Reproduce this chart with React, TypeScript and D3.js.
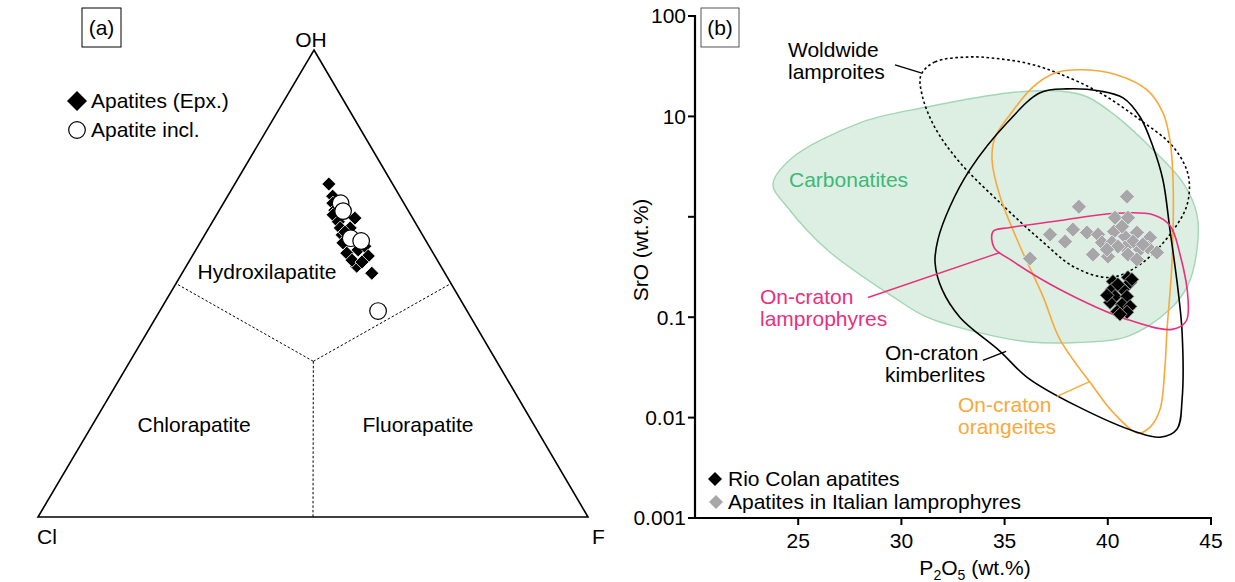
import React from 'react';
import * as d3 from 'd3';

const W = 1235;
const H = 582;
const FONT = '"Liberation Sans", Arial, Helvetica, sans-serif';
const FS = 21;

// ---------- Panel (a): OH – Cl – F ternary (mol %) ----------
type Tern = [number, number, number]; // [OH, Cl, F]

const apatitesEpx: Tern[] = [
  [71.3, 11.6, 17.1], [68.7, 12.2, 19.1], [67.2, 12.9, 19.9], [65.7, 13.3, 21.0],
  [64.7, 14.1, 21.2], [63.2, 13.9, 22.9], [61.9, 14.2, 23.9], [60.4, 14.6, 25.0],
  [58.7, 15.3, 26.0], [64.0, 10.5, 25.5], [61.9, 12.4, 25.7], [56.5, 15.7, 27.8],
  [57.2, 13.3, 29.5], [58.0, 11.7, 30.3], [55.9, 12.1, 32.0], [53.7, 15.3, 31.0],
  [52.2, 13.3, 34.5], [55.0, 15.5, 29.5], [54.6, 13.9, 31.5], [61.0, 13.8, 25.2],
];

const apatiteIncl: Tern[] = [
  [67.2, 11.5, 21.3], [65.5, 11.9, 22.6], [59.7, 13.4, 26.9], [59.1, 11.8, 29.1],
  [44.1, 16.2, 39.7],
];

// field boundaries: centroid to edge midpoints
const fieldBoundaries: [Tern, Tern][] = [
  [[33.33, 33.33, 33.33], [50, 50, 0]],
  [[33.33, 33.33, 33.33], [50, 0, 50]],
  [[33.33, 33.33, 33.33], [0, 50, 50]],
];

const ternaryFields = [
  { name: 'Hydroxilapatite', at: [52.5, 32.2, 15.3] as Tern },
  { name: 'Chlorapatite', at: [19.7, 61.8, 18.5] as Tern },
  { name: 'Fluorapatite', at: [19.7, 21.1, 59.2] as Tern },
];

// ---------- Panel (b): P2O5 vs SrO ----------
type XY = [number, number]; // [P2O5 wt.%, SrO wt.%]

const rioColan: XY[] = [
  [40.25, 0.227], [40.98, 0.249], [41.08, 0.222], [40.2, 0.189], [40.74, 0.189],
  [40.35, 0.161], [40.93, 0.161], [40.11, 0.14], [40.69, 0.134], [41.08, 0.128],
  [40.45, 0.114], [40.93, 0.112], [40.59, 0.107], [41.17, 0.238], [40.49, 0.212],
  [39.96, 0.165],
];

const italianLamprophyres: XY[] = [
  [40.93, 1.59], [38.6, 1.26], [40.35, 0.98], [40.98, 0.98], [37.2, 0.665],
  [38.31, 0.746], [38.99, 0.697], [37.93, 0.566], [39.53, 0.665], [40.3, 0.713],
  [39.72, 0.554], [40.2, 0.554], [40.83, 0.635], [41.41, 0.697], [42.04, 0.621],
  [41.22, 0.566], [40.83, 0.494], [39.28, 0.421], [40.01, 0.402], [40.98, 0.421],
  [41.56, 0.472], [41.95, 0.494], [42.38, 0.441], [41.41, 0.376], [40.49, 0.506],
  [40.69, 0.8], [36.23, 0.384], [39.96, 0.472], [41.7, 0.53],
];

const carbonatites: XY[] = [
  [23.78, 2.09], [24.6, 3.7], [27.99, 8.63], [31.24, 12.4], [35.26, 17.2],
  [37.68, 17.9], [38.99, 15.7], [40.45, 9.9], [42.04, 4.99], [43.64, 2.19],
  [44.32, 1.05], [44.32, 0.47], [43.89, 0.21], [43.01, 0.12], [40.93, 0.064],
  [38.51, 0.056], [36.09, 0.057], [33.66, 0.071], [31.24, 0.1], [29.59, 0.16],
  [26.4, 0.47], [24.46, 1.26],
];

const lamproites: XY[] = [
  [30.95, 25.9], [31.63, 34.9], [33.32, 39.1], [34.78, 37.4], [36.23, 33.3],
  [37.68, 26.5], [39.62, 17.2], [41.56, 9.25], [43.16, 4.99], [43.89, 2.63],
  [43.84, 1.32], [43.01, 0.665], [41.56, 0.335], [40.11, 0.249], [38.41, 0.313],
  [36.72, 0.593], [34.78, 1.38], [32.84, 3.46], [31.63, 7.7], [31.0, 16.4],
];

const kimberlites: XY[] = [
  [31.63, 0.351], [31.97, 0.189], [32.84, 0.0995], [34.78, 0.0457], [36.09, 0.0252],
  [38.51, 0.013], [41.41, 0.00716], [42.53, 0.00638], [43.35, 0.00767], [43.6, 0.0152],
  [43.6, 0.0706], [43.4, 0.189], [43.01, 0.746], [42.67, 2.34], [42.19, 4.99],
  [41.56, 9.91], [40.74, 15.3], [39.62, 17.9], [38.02, 18.8], [36.72, 17.2],
  [35.12, 8.63], [33.32, 2.95], [32.35, 1.26], [31.77, 0.593],
];

const orangeites: XY[] = [
  [38.8, 29.1], [40.45, 25.9], [41.9, 18.4], [42.67, 10.9], [43.01, 5.85],
  [43.16, 2.34], [43.11, 0.351], [42.87, 0.0757], [42.77, 0.0324], [42.53, 0.0121],
  [42.05, 0.00803], [41.46, 0.007], [40.25, 0.0113], [39.28, 0.0205], [37.68, 0.0601],
  [36.86, 0.161], [35.75, 0.506], [34.78, 1.59], [34.39, 3.7], [34.53, 6.12],
  [35.26, 10.4], [36.38, 19.7], [37.44, 27.1],
];

const lamprophyres: XY[] = [
  [34.44, 0.713], [35.26, 0.781], [37.68, 0.917], [40.25, 1.08], [42.19, 1.05],
  [43.01, 0.818], [43.5, 0.421], [43.89, 0.15], [43.79, 0.0908], [43.11, 0.0757],
  [40.93, 0.0951], [37.68, 0.189], [35.26, 0.376], [34.49, 0.494],
];

const xTicks = [25, 30, 35, 40, 45];
const yTicks = [100, 10, 1, 0.1, 0.01, 0.001];
const yTickLabels = ['100', '10', '', '0.1', '0.01', '0.001'];

const GREEN = '#3db877';
const PINK = '#ea2f7c';
const ORANGE = '#f8a93a';
const GRAY = '#a7a7a9';

// field labels with leader lines (leader endpoints in data units)
const fieldLabels = [
  { lines: ['Woldwide', 'lamproites'], color: '#000', x: 788, y: 50, leader: [[29.69, 32.6], [30.95, 27.1]] as XY[] },
  { lines: ['Carbonatites'], color: GREEN, x: 789, y: 180, leader: null },
  { lines: ['On-craton', 'lamprophyres'], color: PINK, x: 760, y: 297, leader: [[28.38, 0.157], [34.78, 0.441]] as XY[] },
  { lines: ['On-craton', 'kimberlites'], color: '#000', x: 885, y: 353, leader: [[33.95, 0.0372], [35.07, 0.0457]] as XY[] },
  { lines: ['On-craton', 'orangeites'], color: ORANGE, x: 958, y: 405, leader: [[37.54, 0.0163], [39.14, 0.023]] as XY[] },
];

function diamond(cx: number, cy: number, r: number) {
  return `M${cx},${cy - r}L${cx + r},${cy}L${cx},${cy + r}L${cx - r},${cy}Z`;
}

export default function App() {
  // ternary projection
  const apex = { x: 314, y: 50 };
  const baseY = 517;
  const left = 38;
  const right = 588;
  const tern = (t: Tern) => {
    const s = t[0] + t[1] + t[2];
    const a = t[0] / s, b = t[1] / s, c = t[2] / s;
    return {
      x: a * apex.x + b * left + c * right,
      y: a * apex.y + (b + c) * baseY,
    };
  };

  // P2O5 - SrO scales
  const x = d3.scaleLinear().domain([20, 45]).range([695, 1211]);
  const y = d3.scaleLog().domain([0.001, 100]).range([518, 16]);
  const closed = d3
    .line<XY>()
    .x((d) => x(d[0]))
    .y((d) => y(d[1]))
    .curve(d3.curveCatmullRomClosed.alpha(0.5));
  const seg = d3.line<XY>().x((d) => x(d[0])).y((d) => y(d[1]));

  const x0 = x.range()[0];
  const yB = y.range()[0];

  return (
    <svg
      width={W}
      height={H}
      viewBox={`0 0 ${W} ${H}`}
      style={{ position: 'absolute', left: 0, top: 0, background: '#fff' }}
      fontFamily={FONT}
      fontSize={FS}
    >
      <rect width={W} height={H} fill="#fff" />

      {/* ---------------- Panel (a) ---------------- */}
      <g>
        <rect x={82} y={8} width={39} height={39} fill="none" stroke="#000" strokeWidth={1} />
        <text x={101.5} y={27.5} dy="0.35em" textAnchor="middle">(a)</text>

        <path
          d={`M${apex.x},${apex.y}L${right},${baseY}L${left},${baseY}Z`}
          fill="none"
          stroke="#000"
          strokeWidth={1.6}
          strokeLinejoin="miter"
        />
        {fieldBoundaries.map(([p, q], i) => {
          const a = tern(p), b = tern(q);
          return (
            <line key={i} x1={a.x} y1={a.y} x2={b.x} y2={b.y} stroke="#000" strokeWidth={1} strokeDasharray="2.5,2" />
          );
        })}
        <text x={311} y={40} dy="0.35em" textAnchor="middle">OH</text>
        <text x={37} y={537} dy="0.35em">Cl</text>
        <text x={592} y={537} dy="0.35em">F</text>
        {ternaryFields.map((f) => {
          const p = tern(f.at);
          return (
            <text key={f.name} x={p.x} y={p.y} dy="0.35em" textAnchor="middle">{f.name}</text>
          );
        })}

        {apatitesEpx.map((t, i) => {
          const p = tern(t);
          return <path key={i} d={diamond(p.x, p.y, 7)} fill="#000" stroke="#fff" strokeWidth={0.8} />;
        })}
        {apatiteIncl.map((t, i) => {
          const p = tern(t);
          return <circle key={i} cx={p.x} cy={p.y} r={8.3} fill="#fff" stroke="#000" strokeWidth={1.2} />;
        })}

        {/* legend */}
        <path d={diamond(77, 101, 10)} fill="#000" />
        <text x={91} y={101} dy="0.35em">Apatites (Epx.)</text>
        <circle cx={77} cy={130} r={8.3} fill="#fff" stroke="#000" strokeWidth={1.2} />
        <text x={91} y={130} dy="0.35em">Apatite incl.</text>
      </g>

      {/* ---------------- Panel (b) ---------------- */}
      <g>
        <path d={closed(carbonatites) ?? ''} fill="#dcefe2" stroke="#a2d7b4" strokeWidth={1.4} />
        <path d={closed(lamproites) ?? ''} fill="none" stroke="#000" strokeWidth={1.6} strokeDasharray="2.6,2.6" />
        <path d={closed(orangeites) ?? ''} fill="none" stroke={ORANGE} strokeWidth={1.6} />
        <path d={closed(kimberlites) ?? ''} fill="none" stroke="#000" strokeWidth={1.6} />
        <path d={closed(lamprophyres) ?? ''} fill="none" stroke={PINK} strokeWidth={1.6} />

        {italianLamprophyres.map((d, i) => (
          <path key={i} d={diamond(x(d[0]), y(d[1]), 7.5)} fill={GRAY} stroke="#eee" strokeWidth={0.8} />
        ))}
        {rioColan.map((d, i) => (
          <path key={i} d={diamond(x(d[0]), y(d[1]), 7)} fill="#000" stroke="#bbb" strokeWidth={0.8} />
        ))}

        {fieldLabels.map((f, i) => (
          <g key={i} fill={f.color}>
            {f.leader && (
              <path d={seg(f.leader) ?? ''} stroke={f.color} strokeWidth={1.4} fill="none" />
            )}
            {f.lines.map((l, j) => (
              <text key={j} x={f.x} y={f.y + j * 22} dy="0.35em">{l}</text>
            ))}
          </g>
        ))}

        {/* axes */}
        <line x1={x0} y1={y.range()[1] - 1} x2={x0} y2={yB + 1} stroke="#000" strokeWidth={2.2} />
        <line x1={x0 - 1} y1={yB} x2={x.range()[1] + 1} y2={yB} stroke="#000" strokeWidth={2.2} />
        {yTicks.map((t, i) => (
          <g key={t}>
            <line x1={x0 - 7} x2={x0} y1={y(t)} y2={y(t)} stroke="#000" strokeWidth={2} />
            <text x={x0 - 9} y={y(t)} dy="0.35em" textAnchor="end">{yTickLabels[i]}</text>
          </g>
        ))}
        {xTicks.map((t) => (
          <g key={t}>
            <line x1={x(t)} x2={x(t)} y1={yB} y2={yB + 7} stroke="#000" strokeWidth={2} />
            <text x={x(t)} y={yB + 23} dy="0.35em" textAnchor="middle">{t}</text>
          </g>
        ))}
        <text x={975} y={568} dy="0.35em" textAnchor="middle">
          P<tspan fontSize={14} dy="5">2</tspan>
          <tspan dy="-5">O</tspan>
          <tspan fontSize={14} dy="5">5</tspan>
          <tspan dy="-5"> (wt.%)</tspan>
        </text>
        <text transform="translate(648,250) rotate(-90)" textAnchor="middle">SrO (wt.%)</text>

        <rect x={701} y={8} width={38} height={39} fill="none" stroke="#555" strokeWidth={1} />
        <text x={720} y={27.5} dy="0.35em" textAnchor="middle">(b)</text>

        {/* legend */}
        <path d={diamond(715, 479, 7)} fill="#000" />
        <text x={728} y={479} dy="0.35em">Rio Colan apatites</text>
        <path d={diamond(716, 502, 7)} fill={GRAY} />
        <text x={728} y={502} dy="0.35em">Apatites in Italian lamprophyres</text>
      </g>
    </svg>
  );
}
